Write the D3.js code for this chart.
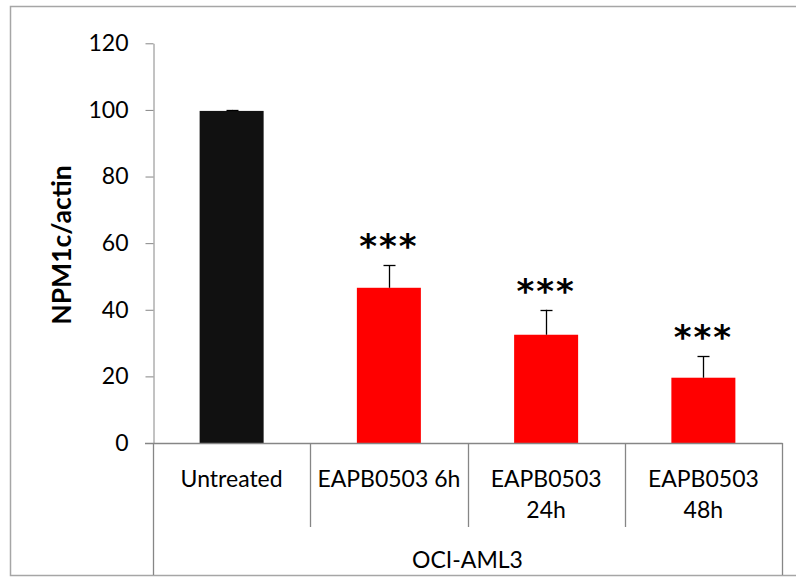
<!DOCTYPE html>
<html>
<head>
<meta charset="UTF-8">
<script src="https://cdnjs.cloudflare.com/ajax/libs/d3/7.8.5/d3.min.js"></script>
<style>
  body { margin: 0; background: #fff; }
  svg { display: block; font-family: Lato, "Open Sans", sans-serif; }
</style>
</head>
<body>
<svg width="796" height="580"></svg>
<script>
// data
var categories = ['Untreated', 'EAPB0503 6h', 'EAPB0503 24h', 'EAPB0503 48h'];
var labelLines = [['Untreated'], ['EAPB0503 6h'], ['EAPB0503', '24h'], ['EAPB0503', '48h']];
var values = [99.7, 46.6, 32.5, 19.6];
var errors = [0.3, 6.8, 7.5, 6.4];
var signif = ['', '***', '***', '***'];
var barColors = ['#111111', '#ff0000', '#ff0000', '#ff0000'];
var groupLabel = 'OCI-AML3';
var yTicks = [0, 20, 40, 60, 80, 100, 120];

var svg = d3.select('svg');
var axisGray = '#868686';

// outer frame
svg.append('rect')
  .attr('x', 10.5).attr('y', 6.5)
  .attr('width', 800).attr('height', 569)
  .attr('fill', 'none').attr('stroke', '#a6a6a6').attr('stroke-width', 1.5);

var x = d3.scaleBand().domain(categories).range([153, 782]).padding(0);
var y = d3.scaleLinear().domain([0, 120]).range([443, 43.3]);
var barW = x.bandwidth() * 0.407;

// y axis
var yAxis = svg.append('g')
  .attr('transform', 'translate(153.5,0)')
  .call(d3.axisLeft(y).tickValues(yTicks).tickSize(8).tickSizeOuter(0).tickPadding(17));
yAxis.selectAll('line, path').attr('stroke', axisGray);
yAxis.selectAll('text')
  .attr('font-size', 23).attr('fill', '#000')
  .attr('font-family', 'Lato, sans-serif');

// y label
svg.append('text')
  .attr('transform', 'translate(71,245) rotate(-90)')
  .attr('text-anchor', 'middle')
  .attr('font-size', 26.5).attr('font-weight', 'bold')
  .text('NPM1c/actin');

// bars
svg.selectAll('rect.bar')
  .data(categories)
  .enter().append('rect')
  .attr('class', 'bar')
  .attr('x', function (d) { return x(d) + (x.bandwidth() - barW) / 2; })
  .attr('width', barW)
  .attr('y', function (d, i) { return y(values[i]); })
  .attr('height', function (d, i) { return y(0) - y(values[i]); })
  .attr('fill', function (d, i) { return barColors[i]; });

// error bars (upper only)
var eb = svg.selectAll('g.err')
  .data(categories)
  .enter().append('g')
  .attr('class', 'err')
  .attr('transform', function (d) { return 'translate(' + (Math.round(x(d) + x.bandwidth() / 2) + 0.5) + ',0)'; });
eb.append('line')
  .attr('y1', function (d, i) { return y(values[i]); })
  .attr('y2', function (d, i) { return y(values[i] + errors[i]); })
  .attr('stroke', '#000').attr('stroke-width', 1.3);
eb.append('line')
  .attr('x1', -6).attr('x2', 6)
  .attr('y1', function (d, i) { return Math.round(y(values[i] + errors[i])) + 0.5; })
  .attr('y2', function (d, i) { return Math.round(y(values[i] + errors[i])) + 0.5; })
  .attr('stroke', '#000').attr('stroke-width', 1.3);

// significance stars
svg.selectAll('text.star')
  .data(categories)
  .enter().append('text')
  .attr('class', 'star')
  .attr('x', function (d) { return x(d) + x.bandwidth() / 2; })
  .attr('y', function (d, i) { return y(values[i] + errors[i]) - 7; })
  .attr('text-anchor', 'middle')
  .attr('font-family', 'DejaVu Sans, sans-serif')
  .attr('font-size', 34).attr('font-weight', 'bold')
  .attr('letter-spacing', 2)
  .text(function (d, i) { return signif[i]; });

// category axis (two levels)
var cat = svg.append('g').attr('stroke', axisGray).attr('stroke-width', 1.3);
cat.append('line').attr('x1', 145).attr('x2', 782.5).attr('y1', 443.5).attr('y2', 443.5);
categories.forEach(function (d, i) {
  var xx = Math.round(x(d)) + 0.5;
  cat.append('line').attr('x1', xx).attr('x2', xx).attr('y1', 443).attr('y2', i === 0 ? 575 : 527);
});
cat.append('line').attr('x1', 782.5).attr('x2', 782.5).attr('y1', 443).attr('y2', 575);

svg.selectAll('text.cat')
  .data(categories)
  .enter().append('text')
  .attr('class', 'cat')
  .attr('x', function (d) { return x(d) + x.bandwidth() / 2; })
  .attr('text-anchor', 'middle')
  .attr('font-size', 23)
  .each(function (d, i) {
    var t = d3.select(this);
    labelLines[i].forEach(function (line, j) {
      t.append('tspan')
        .attr('x', x(d) + x.bandwidth() / 2)
        .attr('y', 487 + j * 31)
        .text(line);
    });
  });

svg.append('text')
  .attr('x', (x.range()[0] + x.range()[1]) / 2)
  .attr('y', 568)
  .attr('text-anchor', 'middle')
  .attr('font-size', 23)
  .text(groupLabel);
</script>
</body>
</html>
